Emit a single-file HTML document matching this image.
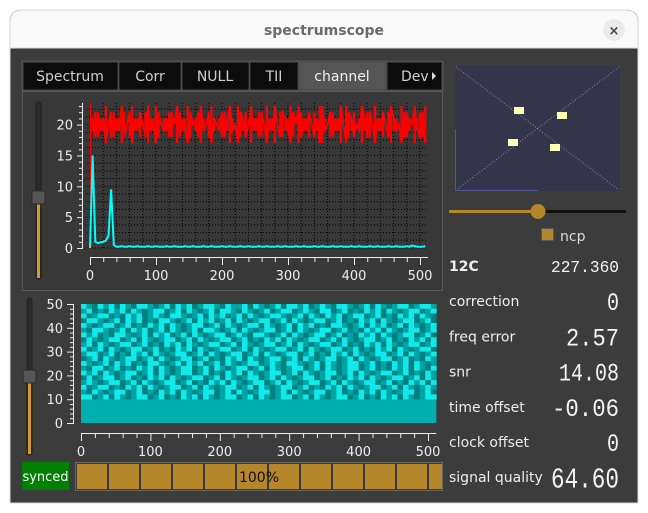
<!DOCTYPE html>
<html><head><meta charset="utf-8"><style>
html,body{margin:0;padding:0;background:#ffffff;width:648px;height:513px;overflow:hidden;font-family:"Liberation Sans","DejaVu Sans",sans-serif}
svg text{font-family:"DejaVu Sans","Liberation Sans",sans-serif}
</style></head><body>
<svg id="root" width="648" height="513" viewBox="0 0 648 513" xmlns="http://www.w3.org/2000/svg">
<path d="M10,503 L10,22 Q10,10 22,10 L626,10 Q638,10 638,22 L638,503 Z" fill="#3c3c3c" stroke="#d8d8d8" stroke-width="1"/>
<path d="M10.5,48 L10.5,22 Q10.5,10.5 22,10.5 L626,10.5 Q637.5,10.5 637.5,22 L637.5,48 Z" fill="#fafafa"/>
<line x1="10" y1="48" x2="638" y2="48" stroke="#dcdcdc"/>
<text x="324" y="35" text-anchor="middle" font-size="14" font-weight="bold" fill="#6a6a6a">spectrumscope</text>
<g><circle cx="614" cy="30" r="11" fill="#ebebeb"/><text x="614" y="35" text-anchor="middle" font-size="13" font-weight="bold" fill="#444">×</text></g>

<g id="tabs">
<rect x="22" y="61" width="421" height="30" fill="#0c0c0c" stroke="#555"/>
<g><rect x="23" y="62" width="95" height="28" fill="#0c0c0c" stroke="#4a4a4a"/><text x="70" y="81" text-anchor="middle" font-size="14" fill="#d0d0d0">Spectrum</text></g>
<g><rect x="119" y="62" width="62" height="28" fill="#0c0c0c" stroke="#4a4a4a"/><text x="150" y="81" text-anchor="middle" font-size="14" fill="#d0d0d0">Corr</text></g>
<g><rect x="182" y="62" width="67" height="28" fill="#0c0c0c" stroke="#4a4a4a"/><text x="215" y="81" text-anchor="middle" font-size="14" fill="#d0d0d0">NULL</text></g>
<g><rect x="250" y="62" width="48" height="28" fill="#0c0c0c" stroke="#4a4a4a"/><text x="274" y="81" text-anchor="middle" font-size="14" fill="#d0d0d0">TII</text></g>
<g><rect x="299" y="62" width="87" height="28" fill="#555555" stroke="#4a4a4a"/><text x="342" y="81" text-anchor="middle" font-size="14" fill="#f0f0f0">channel</text></g>
<g><rect x="387" y="62" width="55" height="28" fill="#0c0c0c" stroke="#4a4a4a"/><text x="401" y="81" font-size="14" fill="#d0d0d0">Dev</text><path d="M432,72 L436,76 L432,80 Z" fill="#ddd"/></g>
</g>
<rect x="22.5" y="91.5" width="420" height="199" fill="#383838" stroke="#5a5a5a"/>

<g>
<rect x="36" y="102" width="5" height="177" rx="2" fill="#2a2a2a" stroke="#222"/>
<rect x="37" y="200" width="3" height="78" fill="#d69a2a"/>
<rect x="32" y="191" width="13" height="13" rx="2" fill="#555" stroke="#2a2a2a"/>
</g>

<g id="chart1"></g>

<g>
<rect x="27" y="298" width="5" height="157" rx="2" fill="#2a2a2a" stroke="#222"/>
<rect x="28" y="382" width="3" height="72" fill="#d69a2a"/>
<rect x="23" y="370" width="13" height="13" rx="2" fill="#555" stroke="#2a2a2a"/>
</g>
<g id="chart2"></g>

<g><rect x="22" y="462" width="47" height="28" fill="#008000"/><text x="45.5" y="481" text-anchor="middle" font-size="13" fill="#fff">synced</text></g>
<g id="progress">
<rect x="75.5" y="462.5" width="367" height="28" fill="#3a3a3a" stroke="#666"/>
</g>

<g>
<rect x="455" y="66" width="165" height="125" fill="#34344a"/>
<line x1="456" y1="67" x2="619" y2="190" stroke="#8888aa" stroke-width="1" stroke-dasharray="1,2"/>
<line x1="619" y1="67" x2="456" y2="190" stroke="#8888aa" stroke-width="1" stroke-dasharray="1,2"/>
<line x1="455.5" y1="129" x2="455.5" y2="191" stroke="#55559a"/>
<line x1="455" y1="190.5" x2="538" y2="190.5" stroke="#55559a"/>
<rect x="514" y="107" width="10" height="7" fill="#ffffb0"/>
<rect x="557" y="112" width="10" height="7" fill="#ffffb0"/>
<rect x="508" y="139" width="10" height="7" fill="#ffffb0"/>
<rect x="550" y="144" width="10" height="7" fill="#ffffb0"/>
</g>
<g>
<rect x="449" y="210" width="89" height="3" fill="#b5862a"/>
<rect x="538" y="210" width="88" height="3" fill="#111"/>
<circle cx="538" cy="211.5" r="7.5" fill="#b5862a"/>
</g>
<g><rect x="541.5" y="228.5" width="12" height="12" fill="#b5862a" stroke="#4a5a70"/><text x="560" y="241" font-size="14" fill="#ddd">ncp</text></g>

<g id="stats"></g>
</svg>
<script>
const xTicks1 = [0,100,200,300,400,500];
const yTicks1 = [0,5,10,15,20];
const redSeries = [20,21,18,22,19,21,17,20,22,18,21,19,23,18,20,22,17,21,19,22,20,18,23,19,21,17,22,20,19,21,18,22,20,23,18,21,19,17,22,20,21,18,23,19,20,22,17,21,20,19,22,18,21,23,19,20,17,22,21,18,20,23,19,21,18,22,20,17,21,19,23,20,18,22,21,19,17,22,20,23,18,21,19,22,20,18,21,17,23,19,20,22,18,21,19,23,20,17,22,21,18,20,19,23,21,18,22,20,17,21,19,22,20,18,23,21,19,20,17,22,18,21,20,23,19,18,22,17];
const cyanSeries = [0,15,1,0.8,0.9,1,1.2,2,9.5,0.5,0.2,0.2,0.3,0.2,0.2,0.3,0.2,0.2,0.3,0.2,0.2,0.2,0.3,0.2,0.2,0.3,0.2,0.2,0.2,0.3,0.2,0.2,0.3,0.2,0.2,0.2,0.3,0.2,0.2,0.3,0.2,0.2,0.2,0.3,0.2,0.2,0.3,0.2,0.2,0.2,0.3,0.2,0.2,0.3,0.2,0.2,0.2,0.3,0.2,0.2,0.3,0.2,0.2,0.2,0.3,0.2,0.2,0.3,0.2,0.2,0.2,0.3,0.2,0.2,0.3,0.2,0.2,0.2,0.3,0.2,0.2,0.3,0.2,0.2,0.2,0.3,0.2,0.2,0.3,0.2,0.2,0.2,0.3,0.2,0.2,0.3,0.2,0.2,0.2,0.3,0.2,0.2,0.3,0.2,0.2,0.2,0.3,0.2,0.2,0.3,0.2,0.2,0.2,0.3,0.2,0.2,0.3,0.2,0.2,0.2,0.3,0.2,0.4,0.3,0.2,0.2,0.2,0.3];
const xTicks2 = [0,100,200,300,400,500];
const yTicks2 = [0,10,20,30,40,50];
const waterBase = 10;
const waterRows = [
"2102120210221012021201221021120210120221201210221012021012201221",
"1201021202101220120210120221021012012201210220120102120210122012",
"2012201021201210221012021201202101221012021021201220120102120210",
"0221012021201022101202120120210122012021012201201021202101220120",
"2101220120102120210122012021012202101202120102210120212012021012",
"1022101202120120210120221012021012201202101220120102120210122012",
"2120102210120212012021012201210221012021012201201021202101220120",
"0210122012021012201202101220120102120210122012021012201201021202",
"1202101220120102120210122012021012201202101220120102120210122012",
"2012021012201201021202101220120210122012021012201201021202101220",
"1220120102120210122012021012201202101220120102120210122012021012",
"0120210122012021012201201021202101220120210122012021012201201021",
"2101202120102210120212012021012201210221012021012201201021202101",
"1022012010212021012201202101220120210122012021012201201021202102",
"2120210122012021012201201021202101220120210122012021012201201021",
"0201220120102120210122012021012201202101220120102120210122012021",
"1210122012021012201201021202101220120210122012021012201201021202",
"2012201021202101220120210122012021012201201021202101220120210121",
"1021012201201021202101220120210122012021012201201021202101220120",
"2201202101220120102120210122012021012201202101220120102120210122"];
const progressValue = 100;
const statLabels = ["12C","correction","freq error","snr","time offset","clock offset","signal quality"];
const statValues = ["227.360","0","2.57","14.08","-0.06","0","64.60"];

const NS="http://www.w3.org/2000/svg";
function mk(tag, attrs, parent){const e=document.createElementNS(NS,tag);for(const k in attrs)e.setAttribute(k,attrs[k]);parent.appendChild(e);return e;}

const c1=document.getElementById('chart1');
const x1=v=>90+v*0.66, y1=v=>248-v*6.17;
for(let v=0; v<=23; v+=1.25){mk('line',{x1:86,x2:428,y1:y1(v),y2:y1(v),stroke:'#000','stroke-dasharray':'1,2'},c1);}
for(let v=20; v<=512; v+=20){mk('line',{x1:x1(v),x2:x1(v),y1:103,y2:249,stroke:'#000','stroke-dasharray':'1,2'},c1);}
mk('line',{x1:82.5,x2:82.5,y1:103,y2:249,stroke:'#eee'},c1);
for(let v=0; v<=23; v++){mk('line',{x1:v%5===0?77:79,x2:82.5,y1:y1(v)+0.5,y2:y1(v)+0.5,stroke:'#eee'},c1);}
yTicks1.forEach(v=>{const t=mk('text',{x:73,y:y1(v)+5,'text-anchor':'end','font-size':13,fill:'#eee'},c1);t.textContent=v;

});
mk('line',{x1:x1(0),x2:x1(512),y1:257.5,y2:257.5,stroke:'#eee'},c1);
for(let v=0; v<=512; v+=20){mk('line',{x1:x1(v)+0.5,x2:x1(v)+0.5,y1:257.5,y2:v%100===0?265:262,stroke:'#eee'},c1);}
xTicks1.forEach(v=>{const t=mk('text',{x:x1(v),y:280,'text-anchor':'middle','font-size':13,fill:'#eee'},c1);t.textContent=v;

});
const step1=512/redSeries.length;
// dense band core
redSeries.forEach((v,i)=>{
  const seg=mk('line',{x1:x1(i*step1),x2:x1(i*step1),y1:y1(v),y2:y1(40-v),stroke:'#ff0000','stroke-width':2.2},c1);
  
  
});
let pr=redSeries.map((v,i)=>x1(i*step1).toFixed(1)+','+y1(v).toFixed(1)).join(' ');
const rl=mk('polyline',{points:pr,fill:'none',stroke:'#ff0000','stroke-width':1.8},c1);


const rv=mk('line',{x1:x1(0)+0.5,x2:x1(0)+0.5,y1:103,y2:250,stroke:'#ff0000','stroke-width':1},c1);


const step2=512/cyanSeries.length;
let pc=cyanSeries.map((v,i)=>x1(i*step2).toFixed(1)+','+y1(v).toFixed(1)).join(' ');
const cl=mk('polyline',{points:pc,fill:'none',stroke:'#00ffff','stroke-width':2},c1);



const c2=document.getElementById('chart2');
const x2=v=>81+v*0.694, y2=v=>423-v*2.38;
const bw=mk('rect',{x:x2(0),y:y2(waterBase),width:x2(512)-x2(0),height:y2(0)-y2(waterBase),fill:'#00b0b0'},c2);


const cols={'0':'#008080','1':'#00a4a4','2':'#10eaea'};
const rowH=(50-waterBase)/waterRows.length;
waterRows.forEach((row,r)=>{
  const cw=512/row.length;
  for(let c=0;c<row.length;c++){
    const yTop=y2(50-r*rowH), yBot=y2(50-(r+1)*rowH);
    const cell=mk('rect',{x:x2(c*cw),y:yTop,width:x2(cw)-x2(0)+0.3,height:yBot-yTop+0.3,fill:cols[row[c]]},c2);
    
    
  }
});
mk('line',{x1:73.5,x2:73.5,y1:y2(50),y2:y2(0)+1,stroke:'#eee'},c2);
for(let v=0; v<=50; v+=2){mk('line',{x1:v%10===0?67:70,x2:73.5,y1:y2(v)+0.5,y2:y2(v)+0.5,stroke:'#eee'},c2);}
yTicks2.forEach(v=>{const t=mk('text',{x:63,y:y2(v)+5,'text-anchor':'end','font-size':13,fill:'#eee'},c2);t.textContent=v;

});
mk('line',{x1:x2(0),x2:x2(512),y1:433.5,y2:433.5,stroke:'#eee'},c2);
for(let v=0; v<=512; v+=20){mk('line',{x1:x2(v)+0.5,x2:x2(v)+0.5,y1:433.5,y2:v%100===0?441:438,stroke:'#eee'},c2);}
xTicks2.forEach(v=>{const t=mk('text',{x:x2(v),y:456,'text-anchor':'middle','font-size':13,fill:'#eee'},c2);t.textContent=v;

});

const pg=document.getElementById('progress');
const pw=366*progressValue/100;
for(let x=77; x<76+pw; x+=32){
  const s=mk('rect',{x:x,y:464,width:Math.min(30,76+pw-x),height:25,fill:'#b5862a'},pg);
  
  
}
const pt=mk('text',{x:259,y:482,'text-anchor':'middle','font-size':14,fill:'#111'},pg);
pt.textContent=progressValue+'%';



const st=document.getElementById('stats');
const sizes=[17,25,25,25,25,25,29];
const widths=[68,12,53,60,67,12,68];
statLabels.forEach((l,i)=>{
  const y=266+i*35.2;
  const t=mk('text',{x:449,y:y+5,'font-size':14,fill:'#eee','font-weight':i===0?'bold':'normal'},st);
  t.textContent=l;
  
  
  const v=mk('text',{x:619-widths[i],y:y+sizes[i]*0.36,'font-size':sizes[i],fill:'#f4f4f4',textLength:widths[i],lengthAdjust:'spacingAndGlyphs','style':'font-family:"Liberation Mono","DejaVu Sans Mono",monospace'},st);
  v.textContent=statValues[i];
  
  
});
</script>
</body></html>
